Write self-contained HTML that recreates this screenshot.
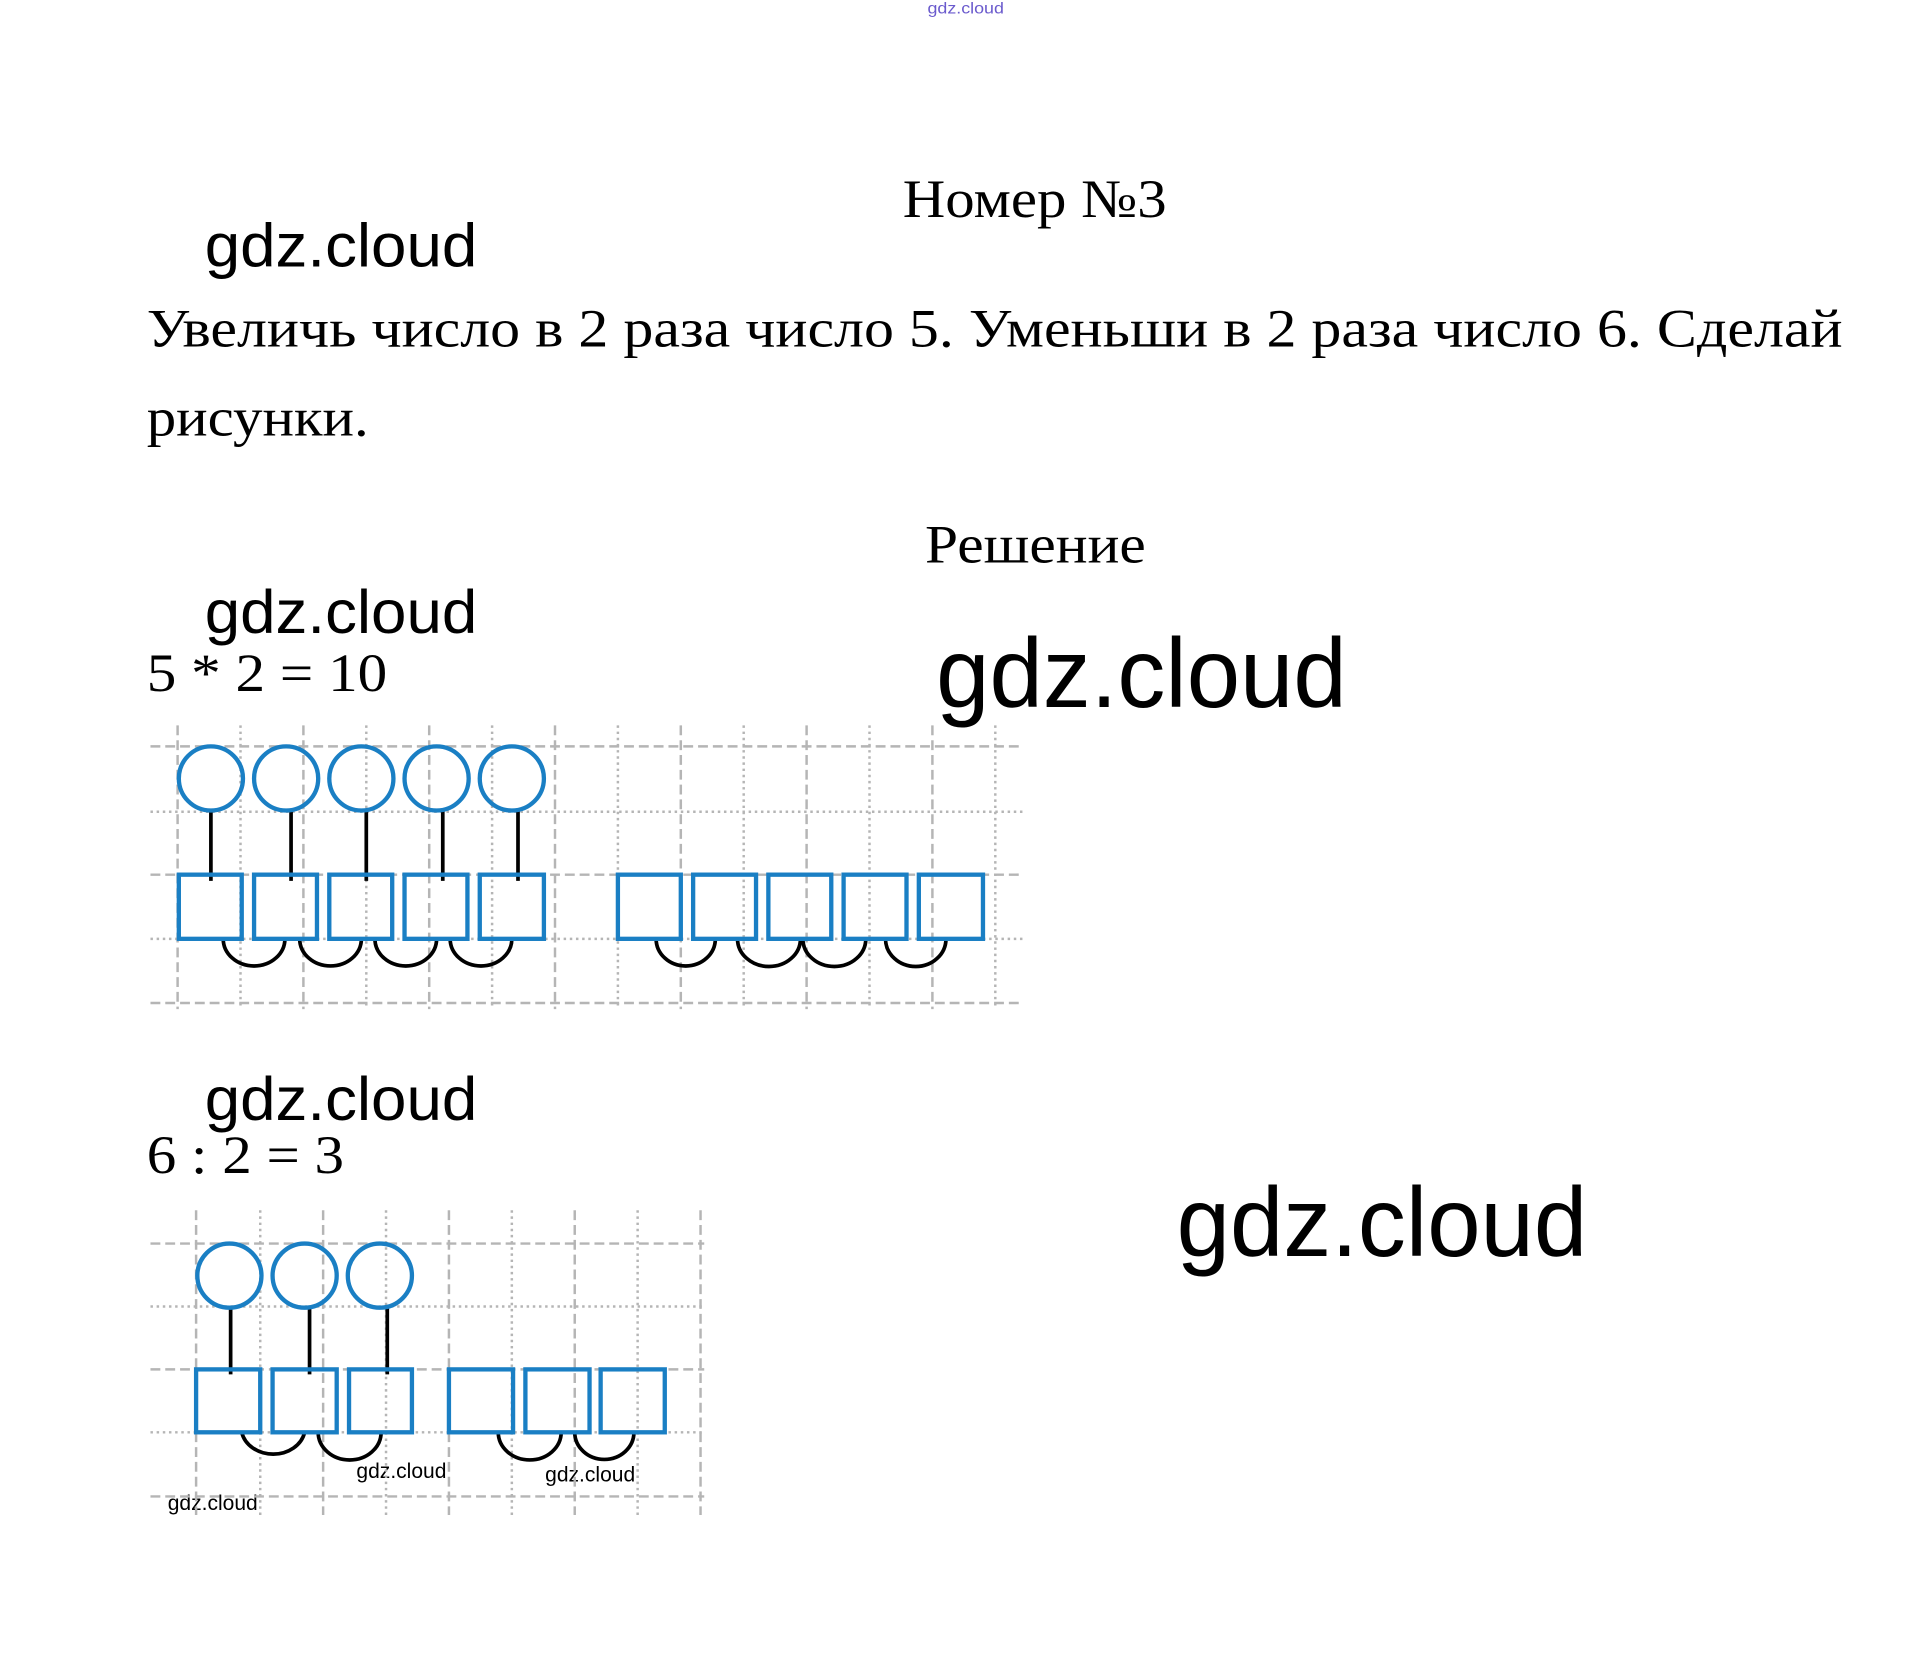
<!DOCTYPE html>
<html><head><meta charset="utf-8"><style>html,body{margin:0;padding:0;background:#fff}svg{display:block}</style></head>
<body>
<svg width="1924" height="1663" viewBox="0 0 1560 1348" preserveAspectRatio="none" xmlns="http://www.w3.org/2000/svg">
<rect width="1560" height="1348" fill="#fff"/>
<g transform="translate(-1,-2)">
<g font-family="'Liberation Serif', serif" fill="#000">
<text x="753" y="13" font-family="'Liberation Sans', sans-serif" font-size="13" fill="#6a5acd" textLength="62" lengthAdjust="spacingAndGlyphs">gdz.cloud</text>
<text x="733" y="178" font-size="44" textLength="214" lengthAdjust="spacingAndGlyphs">Номер №3</text>
<text x="120" y="283" font-size="44" textLength="1375" lengthAdjust="spacingAndGlyphs">Увеличь число в 2 раза число 5. Уменьши в 2 раза число 6. Сделай</text>
<text x="120" y="355" font-size="44" textLength="180" lengthAdjust="spacingAndGlyphs">рисунки.</text>
<text x="751" y="458" font-size="44" textLength="179" lengthAdjust="spacingAndGlyphs">Решение</text>
<text x="120" y="562" font-size="44" textLength="195" lengthAdjust="spacingAndGlyphs">5 * 2 = 10</text>
<text x="120" y="953" font-size="44" textLength="160" lengthAdjust="spacingAndGlyphs">6 : 2 = 3</text>
</g>
<g font-family="'Liberation Sans', sans-serif" fill="#000">
<text x="167" y="218" font-size="50" textLength="221" lengthAdjust="spacingAndGlyphs">gdz.cloud</text>
<text x="167" y="515" font-size="50" textLength="221" lengthAdjust="spacingAndGlyphs">gdz.cloud</text>
<text x="167" y="910" font-size="50" textLength="221" lengthAdjust="spacingAndGlyphs">gdz.cloud</text>
<text x="760" y="575" font-size="80" textLength="333" lengthAdjust="spacingAndGlyphs">gdz.cloud</text>
<text x="955" y="1020" font-size="80" textLength="333" lengthAdjust="spacingAndGlyphs">gdz.cloud</text>
<text x="290" y="1200" font-size="17" textLength="73" lengthAdjust="spacingAndGlyphs">gdz.cloud</text>
<text x="443" y="1203" font-size="17" textLength="73" lengthAdjust="spacingAndGlyphs">gdz.cloud</text>
<text x="137" y="1226" font-size="17" textLength="73" lengthAdjust="spacingAndGlyphs">gdz.cloud</text>
</g>
<!-- grid 1 -->
<g stroke="#b5b5b5" stroke-width="2" fill="none">
<g stroke-dasharray="8,4">
<line x1="123" y1="607" x2="830" y2="607"/><line x1="123" y1="711" x2="830" y2="711"/><line x1="123" y1="815" x2="830" y2="815"/>
<line x1="145" y1="590" x2="145" y2="820"/><line x1="247" y1="590" x2="247" y2="820"/><line x1="349" y1="590" x2="349" y2="820"/><line x1="451" y1="590" x2="451" y2="820"/><line x1="553" y1="590" x2="553" y2="820"/><line x1="655" y1="590" x2="655" y2="820"/><line x1="757" y1="590" x2="757" y2="820"/>
</g>
<g stroke-dasharray="2,3">
<line x1="123" y1="660" x2="830" y2="660"/><line x1="123" y1="763" x2="830" y2="763"/>
<line x1="196" y1="590" x2="196" y2="820"/><line x1="298" y1="590" x2="298" y2="820"/><line x1="400" y1="590" x2="400" y2="820"/><line x1="502" y1="590" x2="502" y2="820"/><line x1="604" y1="590" x2="604" y2="820"/><line x1="706" y1="590" x2="706" y2="820"/><line x1="808" y1="590" x2="808" y2="820"/>
</g>
</g>
<g stroke="#000" stroke-width="3" fill="none">
<line x1="172" y1="659" x2="172" y2="716"/><line x1="237" y1="659" x2="237" y2="716"/><line x1="298" y1="659" x2="298" y2="716"/><line x1="360" y1="659" x2="360" y2="716"/><line x1="421" y1="659" x2="421" y2="716"/>
<path d="M182 763 A25 22 0 0 0 232 763"/><path d="M244 763 A25 22 0 0 0 294 763"/><path d="M305 763 A25 22 0 0 0 355 763"/><path d="M366 763 A25 22 0 0 0 416 763"/>
<path d="M533 763 A24 22 0 0 0 581 763"/><path d="M599 763 A25 22 0 0 0 650 763"/><path d="M652 763 A25 22 0 0 0 703 763"/><path d="M719 763 A24 22 0 0 0 768 763"/>
</g>
<g stroke="#1a7fc4" stroke-width="3.5" fill="none">
<circle cx="172" cy="633" r="26"/><circle cx="233" cy="633" r="26"/><circle cx="294" cy="633" r="26"/><circle cx="355" cy="633" r="26"/><circle cx="416" cy="633" r="26"/>
<rect x="146" y="711" width="51" height="52"/><rect x="207" y="711" width="51" height="52"/><rect x="268" y="711" width="51" height="52"/><rect x="329" y="711" width="51" height="52"/><rect x="390" y="711" width="52" height="52"/>
<rect x="502" y="711" width="51" height="52"/><rect x="563" y="711" width="51" height="52"/><rect x="624" y="711" width="51" height="52"/><rect x="685" y="711" width="51" height="52"/><rect x="746" y="711" width="52" height="52"/>
</g>
<!-- grid 2 -->
<g stroke="#b5b5b5" stroke-width="2" fill="none">
<g stroke-dasharray="8,4">
<line x1="123" y1="1010" x2="572" y2="1010"/><line x1="123" y1="1112" x2="572" y2="1112"/><line x1="123" y1="1215" x2="572" y2="1215"/>
<line x1="160" y1="983" x2="160" y2="1230"/><line x1="263" y1="983" x2="263" y2="1230"/><line x1="365" y1="983" x2="365" y2="1230"/><line x1="467" y1="983" x2="467" y2="1230"/><line x1="569" y1="983" x2="569" y2="1230"/>
</g>
<g stroke-dasharray="2,3">
<line x1="123" y1="1061" x2="572" y2="1061"/><line x1="123" y1="1163" x2="572" y2="1163"/>
<line x1="212" y1="983" x2="212" y2="1230"/><line x1="314" y1="983" x2="314" y2="1230"/><line x1="416" y1="983" x2="416" y2="1230"/><line x1="518" y1="983" x2="518" y2="1230"/>
</g>
</g>
<g stroke="#000" stroke-width="3" fill="none">
<line x1="188" y1="1062" x2="188" y2="1116"/><line x1="252" y1="1062" x2="252" y2="1116"/><line x1="315" y1="1062" x2="315" y2="1116"/>
<path d="M197 1163 A26 22 0 0 0 248 1163"/><path d="M259 1163 A25 22 0 0 0 310 1163"/>
<path d="M405 1163 A25 22 0 0 0 456 1163"/><path d="M467 1163 A24 22 0 0 0 515 1163"/>
</g>
<g stroke="#1a7fc4" stroke-width="3.5" fill="none">
<circle cx="187" cy="1036" r="26"/><circle cx="248" cy="1036" r="26"/><circle cx="309" cy="1036" r="26"/>
<rect x="160" y="1112" width="52" height="51"/><rect x="222" y="1112" width="52" height="51"/><rect x="284" y="1112" width="51" height="51"/>
<rect x="365" y="1112" width="52" height="51"/><rect x="427" y="1112" width="52" height="51"/><rect x="488" y="1112" width="52" height="51"/>
</g>
</g>
</svg>
</body></html>
